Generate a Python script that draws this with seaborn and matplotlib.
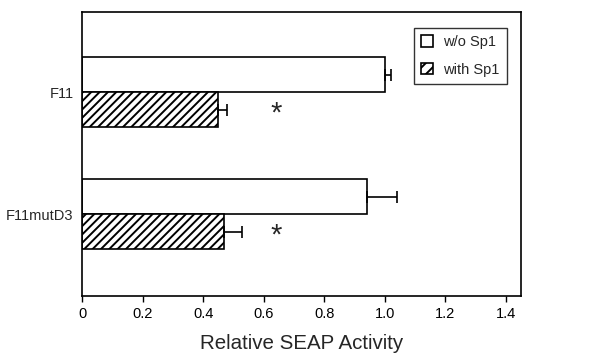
import pandas as pd
import seaborn as sns
import matplotlib.pyplot as plt
import numpy as np

sns.set_theme(style="ticks")
plt.rcParams['font.family'] = ['Liberation Sans', 'DejaVu Sans']
plt.rcParams['hatch.linewidth'] = 1.4

# data
constructs = ['F11', 'F11mutD3']
conditions = ['w/o Sp1', 'with Sp1']
wo_sp1 = [1.00, 0.94]
with_sp1 = [0.45, 0.47]
wo_err = [0.02, 0.10]
with_err = [0.03, 0.06]
star_x = 0.64

df = pd.DataFrame({
    'construct': constructs * 2,
    'condition': [conditions[0]] * 2 + [conditions[1]] * 2,
    'value': wo_sp1 + with_sp1,
})

fig, ax = plt.subplots(figsize=(5.9, 3.59), dpi=100)
fig.subplots_adjust(left=0.139, right=0.883, top=0.967, bottom=0.175)

sns.barplot(data=df, y='construct', x='value', hue='condition', orient='h',
            palette=['white', 'white'], edgecolor='black', linewidth=1.2,
            width=0.575, errorbar=None, ax=ax)

# hatch the "with Sp1" bars and add one-sided error bars
errs = {conditions[0]: wo_err, conditions[1]: with_err}
for cont, cond in zip(ax.containers, conditions):
    for i, bar in enumerate(cont):
        if cond == conditions[1]:
            bar.set_hatch('////')
        yc = bar.get_y() + bar.get_height() / 2
        ax.errorbar(bar.get_width(), yc, xerr=[[0], [errs[cond][i]]],
                    fmt='none', ecolor='black', elinewidth=1.2,
                    capsize=4, capthick=1.2)
        if cond == conditions[1]:
            ax.text(star_x, yc + 0.03, '*', fontsize=21, ha='center',
                    va='center')

ax.set_xlim(0, 1.45)
ax.set_ylim(1.67, -0.66)
ax.set_xticks(np.arange(0, 1.41, 0.2))
ax.set_xticklabels(['0', '0.2', '0.4', '0.6', '0.8', '1.0', '1.2', '1.4'])
ax.tick_params(axis='x', labelsize=10.5, length=4, width=1, colors='black')
ax.tick_params(axis='y', labelsize=10.5, length=0, pad=6)
ax.set_ylabel('')
ax.set_xlabel('Relative SEAP Activity', fontsize=14.8, labelpad=10)
for s in ax.spines.values():
    s.set_visible(True)
    s.set_color('black')
    s.set_linewidth(1.2)

leg = ax.legend(loc='upper right', bbox_to_anchor=(0.968, 0.944),
                borderaxespad=0, frameon=True, fancybox=False,
                edgecolor='black', fontsize=10.5, handlelength=0.8,
                handleheight=0.8, handletextpad=0.7, borderpad=0.5,
                labelspacing=0.95)
leg.get_frame().set_linewidth(1.0)
leg.legend_handles[1].set_hatch('///')

fig.savefig('out.png', dpi=100)
